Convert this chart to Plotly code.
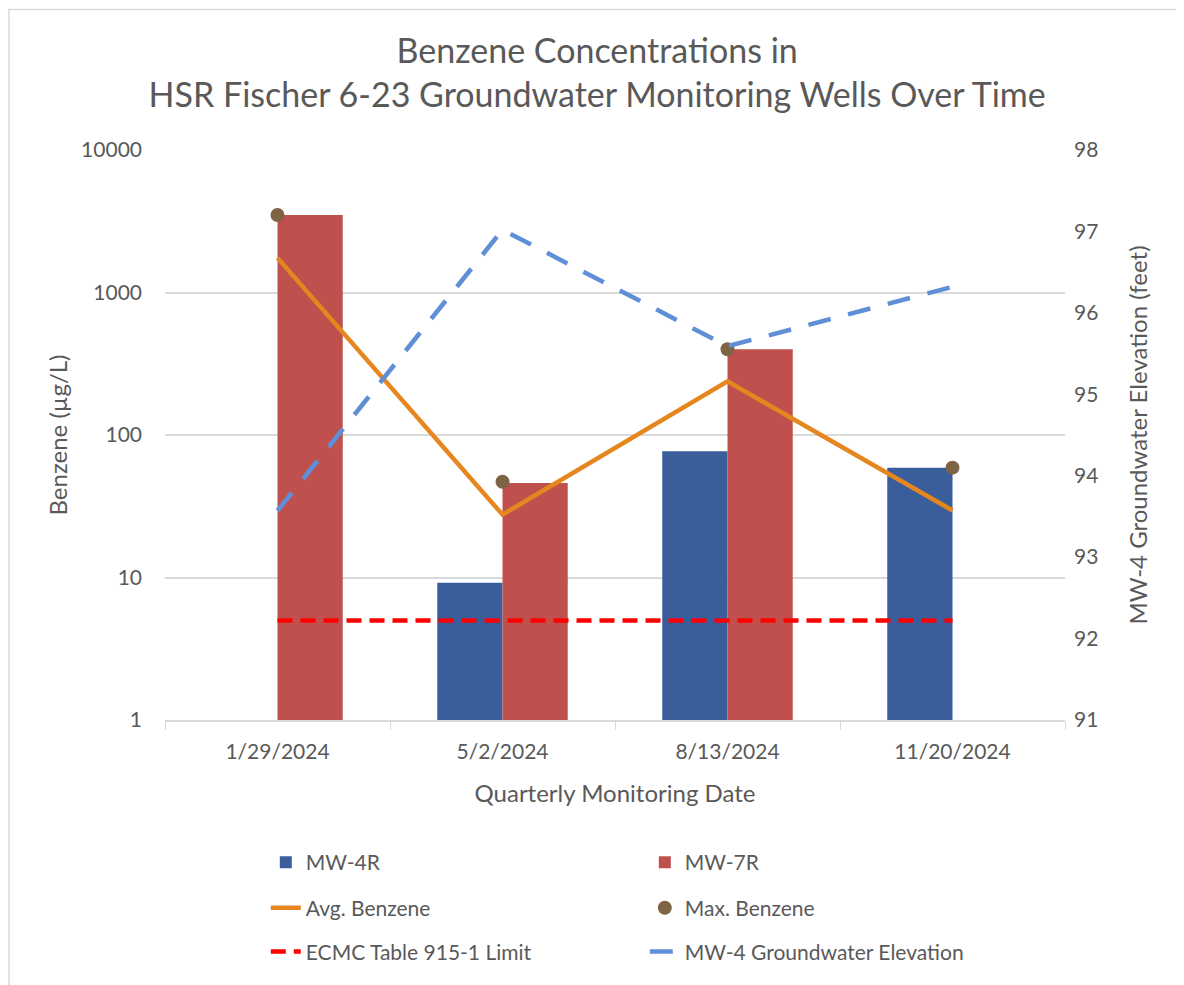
import plotly.graph_objects as go

dates = ["1/29/2024", "5/2/2024", "8/13/2024", "11/20/2024"]
mw4r = [None, 9.2, 77, 59]
mw7r = [3500, 46, 400, None]
avg_benzene = [1750, 27.6, 238, 29.5]
max_benzene = [3500, 47, 400, 59]
limit = [5, 5, 5, 5]
gw_elev = [93.57, 97.02, 95.59, 96.32]

left_ticks = [1, 10, 100, 1000, 10000]
left_ticktext = ["1", "10", "100", "1000", "10000"]

FONT = "Lato"
GRAY = "#595959"

fig = go.Figure()
fig.add_trace(go.Bar(x=dates, y=mw4r, name="MW-4R", marker_color="#3A5E9C",
                     marker_line_width=0, legend="legend"))
fig.add_trace(go.Bar(x=dates, y=mw7r, name="MW-7R", marker_color="#C0504D",
                     marker_line_width=0, legend="legend"))
fig.add_trace(go.Scatter(x=dates, y=avg_benzene, name="Avg. Benzene", mode="lines",
                         line=dict(color="#E6861F", width=4.5), legend="legend2"))
fig.add_trace(go.Scatter(x=dates, y=max_benzene, name="Max. Benzene", mode="markers",
                         marker=dict(color="#7F6345", size=14), legend="legend2"))
fig.add_trace(go.Scatter(x=dates, y=limit, name="ECMC Table 915-1 Limit", mode="lines",
                         line=dict(color="#FF0000", width=4.5, dash="15px,8px"), legend="legend3"))
fig.add_trace(go.Scatter(x=dates, y=gw_elev, name="MW-4 Groundwater Elevation", mode="lines",
                         line=dict(color="#5F8FD6", width=4.5, dash="23px,18px"),
                         yaxis="y2", legend="legend3"))

legend_common = dict(orientation="h", xanchor="left", yanchor="top", x=0.112,
                     entrywidth=334, entrywidthmode="pixels",
                     font=dict(family=FONT, size=21, color=GRAY),
                     bgcolor="rgba(0,0,0,0)", traceorder="normal")

fig.update_layout(
    width=1176, height=977,
    margin=dict(l=157, r=119, t=142, b=263),
    paper_bgcolor="white", plot_bgcolor="white",
    font=dict(family=FONT, color=GRAY),
    title=dict(text="Benzene Concentrations in<br>HSR Fischer 6-23 Groundwater Monitoring Wells Over Time",
               x=0.501, xanchor="center", y=0.9435, yanchor="top",
               font=dict(family=FONT, size=34, color=GRAY)),
    barmode="group", bargap=0.42, bargroupgap=0,
    xaxis=dict(type="category", showgrid=False, showline=True, linecolor="#D9D9D9", linewidth=1.5,
               ticks="outside", tickson="boundaries", ticklen=8, tickcolor="#D9D9D9",
               ticklabelstandoff=12,
               tickfont=dict(family=FONT, size=21, color=GRAY),
               title=dict(text="Quarterly Monitoring Date", font=dict(family=FONT, size=24, color=GRAY),
                          standoff=23)),
    yaxis=dict(type="log", range=[0, 4], tickvals=left_ticks, ticktext=left_ticktext,
               showgrid=True, gridcolor="#D9D9D9", gridwidth=1.5, zeroline=False, showline=False,
               tickfont=dict(family=FONT, size=21, color=GRAY), ticks="", ticklabelstandoff=22,
               title=dict(text="Benzene (µg/L)", font=dict(family=FONT, size=24, color=GRAY),
                          standoff=6)),
    yaxis2=dict(overlaying="y", side="right", range=[91, 98], dtick=1, showgrid=False,
                zeroline=False, showline=False,
                tickfont=dict(family=FONT, size=21, color=GRAY), ticklabelstandoff=8,
                title=dict(text="MW-4 Groundwater Elevation (feet)",
                           font=dict(family=FONT, size=24, color=GRAY), standoff=32)),
    legend=dict(**legend_common, y=-0.214),
    legend2=dict(**legend_common, y=-0.294),
    legend3=dict(**legend_common, y=-0.371),
    showlegend=True,
    shapes=[dict(type="rect", xref="paper", yref="paper",
                 x0=-0.1733, x1=1.2, y0=-0.6, y1=1.2465,
                 line=dict(color="#D9D9D9", width=1.5), fillcolor="rgba(0,0,0,0)", layer="below")],
)

fig.write_html("out.html")
